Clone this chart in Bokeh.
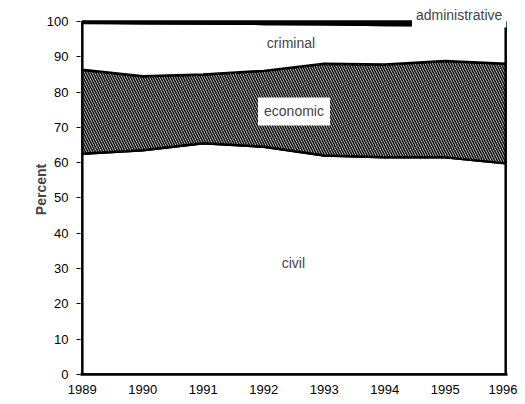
from bokeh.plotting import figure
from bokeh.models import Range1d, FixedTicker, Label
from bokeh.embed import file_html
from bokeh.resources import INLINE

# Data (percent of cases by type)
years = [1989, 1990, 1991, 1992, 1993, 1994, 1995, 1996]
civil = [62.5, 63.5, 65.5, 64.5, 62.0, 61.5, 61.5, 59.8]
economic = [23.8, 21.0, 19.5, 21.5, 26.0, 26.3, 27.3, 28.2]
criminal = [13.3, 15.0, 14.4, 13.3, 11.2, 11.2, 10.1, 10.8]
administrative = [0.4, 0.5, 0.6, 0.7, 0.8, 1.0, 1.1, 1.2]
y_ticks = [0, 10, 20, 30, 40, 50, 60, 70, 80, 90, 100]

FONT = "Liberation Sans"

p = figure(width=517, height=396, output_backend="svg", toolbar_location=None,
           x_range=Range1d(1988.97, 1996.03), y_range=Range1d(0, 104.8),
           min_border_left=80, min_border_right=10, min_border_top=4, min_border_bottom=22)
p.outline_line_color = None
p.xgrid.grid_line_color = None
p.ygrid.grid_line_color = None
p.background_fill_color = "white"
p.border_fill_color = "white"

# stacked boundaries
b0 = [0.0] * len(years)
b1 = [c for c in civil]
b2 = [a + b for a, b in zip(b1, economic)]
b3 = [a + b for a, b in zip(b2, criminal)]
b4 = [a + b for a, b in zip(b3, administrative)]

def band(lo, hi):
    return years + years[::-1], hi + lo[::-1]

xs, ys = band(b0, b1)
p.patch(xs, ys, fill_color="white", line_color="black", line_width=2.5)
xs, ys = band(b1, b2)
p.patch(xs, ys, fill_color="#d8d8d8", hatch_pattern="\\", hatch_color="#111111",
        hatch_scale=5, hatch_weight=1.6, line_color="black", line_width=2.5)
xs, ys = band(b2, b3)
p.patch(xs, ys, fill_color="white", line_color="black", line_width=2.5)
xs, ys = band(b3, b4)
p.patch(xs, ys, fill_color="black", line_color="black", line_width=2.5)

# axes
p.yaxis.ticker = FixedTicker(ticks=y_ticks)
p.xaxis.ticker = FixedTicker(ticks=years)
p.yaxis.minor_tick_line_color = None
p.xaxis.minor_tick_line_color = None
p.yaxis.major_tick_out = 4
p.yaxis.major_tick_in = 0
p.xaxis.major_tick_out = 0
p.xaxis.major_tick_in = 0
p.yaxis.major_label_standoff = 8
p.xaxis.major_label_standoff = 10
for ax in (p.xaxis, p.yaxis):
    ax.major_tick_line_color = "black"
    ax.major_label_text_font = FONT
    ax.major_label_text_font_size = "13px"
    ax.major_label_text_color = "black"
p.yaxis.axis_line_color = None
p.xaxis.axis_line_color = "black"
p.xaxis.axis_line_width = 2.5
p.yaxis.axis_label = "Percent"
p.yaxis.axis_label_text_font = FONT
p.yaxis.axis_label_text_font_style = "bold"
p.yaxis.axis_label_text_font_size = "14px"
p.yaxis.axis_label_standoff = -5

# in-chart labels
p.add_layout(Label(x=1992.45, y=93.8, text="criminal", text_align="center",
                   text_baseline="middle", text_font=FONT, text_font_size="14px"))
p.add_layout(Label(x=1992.5, y=74.5, text="economic", text_align="center",
                   text_baseline="middle", text_font=FONT, text_font_size="14px",
                   background_fill_color="white", padding=6))
p.add_layout(Label(x=1992.49, y=31.7, text="civil", text_align="center",
                   text_baseline="middle", text_font=FONT, text_font_size="14px"))
p.add_layout(Label(x=1994.45, y=101.7, text="administrative", text_align="left",
                   text_baseline="middle", text_font=FONT, text_font_size="14px",
                   background_fill_color="white", padding=4))

open("out.html", "w").write(file_html(p, INLINE))
